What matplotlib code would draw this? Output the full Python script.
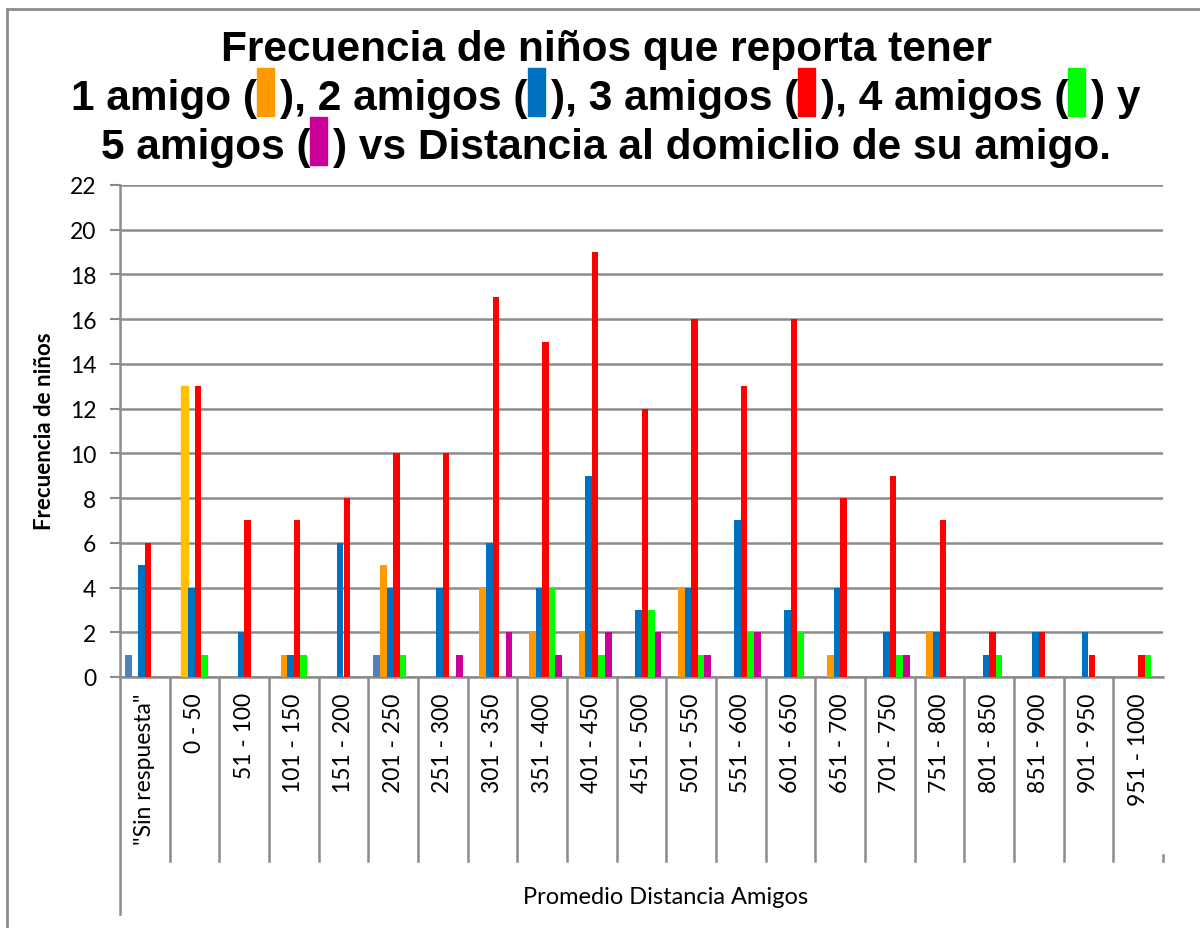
import matplotlib
matplotlib.use("Agg")
import matplotlib.pyplot as plt
from matplotlib.lines import Line2D
from matplotlib.patches import Rectangle
import numpy as np

# datos
categorias = ['"Sin respuesta"', "0 - 50", "51 - 100", "101 - 150", "151 - 200", "201 - 250",
              "251 - 300", "301 - 350", "351 - 400", "401 - 450", "451 - 500", "501 - 550",
              "551 - 600", "601 - 650", "651 - 700", "701 - 750", "751 - 800", "801 - 850",
              "851 - 900", "901 - 950", "951 - 1000"]
sin_resp = [1, 0, 0, 0, 0, 1, 0, 0, 0, 0, 0, 0, 0, 0, 0, 0, 0, 0, 0, 0, 0]
amigo1   = [0, 13, 0, 1, 0, 5, 0, 4, 2, 2, 0, 4, 0, 0, 1, 0, 2, 0, 0, 0, 0]
amigos2  = [5, 4, 2, 1, 6, 4, 4, 6, 4, 9, 3, 4, 7, 3, 4, 2, 2, 1, 2, 2, 0]
amigos3  = [6, 13, 7, 7, 8, 10, 10, 17, 15, 19, 12, 16, 13, 16, 8, 9, 7, 2, 2, 1, 1]
amigos4  = [0, 1, 0, 1, 0, 1, 0, 0, 4, 1, 3, 1, 2, 2, 0, 1, 0, 1, 0, 0, 1]
amigos5  = [0, 0, 0, 0, 0, 0, 1, 2, 1, 2, 2, 1, 2, 0, 0, 1, 0, 0, 0, 0, 0]

series = [sin_resp, amigo1, amigos2, amigos3, amigos4, amigos5]
colores = ["#4F81BD", "#FF9900", "#0070C0", "#FF0000", "#00FF00", "#CC0099"]

W, H = 1200, 929
fig = plt.figure(figsize=(12, 9.29), dpi=100)
ax = fig.add_axes([120 / W, 1 - 678 / H, (1163 - 120) / W, (678 - 186) / H])

x = np.arange(len(categorias))
w = 0.133
for i, (vals, col) in enumerate(zip(series, colores)):
    bars = ax.bar(x + (i - 2.5) * w, vals, w, color=col, zorder=3)
    if i == 1:
        bars[1].set_color("#FFC000")

ax.set_xlim(-0.5, len(categorias) - 0.5)
ax.set_ylim(0, 22)
ax.set_yticks(range(0, 23, 2))
ax.grid(axis="y", color="#8c8c8c", linewidth=1.8, zorder=0)
for s in ["top", "right"]:
    ax.spines[s].set_visible(False)
for s in ["left", "bottom"]:
    ax.spines[s].set_color("#8c8c8c")
    ax.spines[s].set_linewidth(1.8)

ax.tick_params(axis="y", length=7, width=1.5, color="#8c8c8c", pad=10, labelsize=16.5)
ax.tick_params(axis="x", length=0, pad=11, labelsize=16.5)
ax.set_xticks(x)
ax.set_xticklabels(categorias, rotation=90, fontfamily="Lato")
for t in ax.get_yticklabels():
    t.set_fontfamily("Lato")

# lineas separadoras de categorias
trans = ax.get_xaxis_transform()
y_sep = (678 - 862) / (678 - 186)
for b in range(1, len(categorias)):
    ax.plot([b - 0.5, b - 0.5], [0, y_sep], color="#8c8c8c", lw=1.8, transform=trans, clip_on=False)
ax.plot([-0.5, -0.5], [0, (678 - 915) / (678 - 186)], color="#8c8c8c", lw=1.8, transform=trans, clip_on=False)
ax.plot([len(categorias) - 0.5] * 2, [(678 - 856) / (678 - 186), y_sep], color="#8c8c8c", lw=1.8,
        transform=trans, clip_on=False)

fig.text(45 / W, 1 - 431 / H, "Frecuencia de niños", rotation=90, ha="center", va="center",
         fontsize=16, fontweight="bold", fontfamily="Lato")
fig.text(666 / W, 1 - 898 / H, "Promedio Distancia Amigos", ha="center", va="center",
         fontsize=17, fontfamily="Lato")

# borde exterior
fig.add_artist(Line2D([7 / W, 7 / W], [0, 1 - 10 / H], color="#8c8c8c", lw=2))
fig.add_artist(Line2D([7 / W, 1], [1 - 10 / H, 1 - 10 / H], color="#8c8c8c", lw=2))

# titulo con cuadritos de color
renderer = fig.canvas.get_renderer()
tfont = dict(fontsize=30.5, fontweight="bold", fontfamily="Liberation Sans")
box_w = 17


def title_line(parts, base_y, cx=606):
    widths = []
    for p in parts:
        if isinstance(p, str):
            t = fig.text(0, 0, p, **tfont)
            widths.append(t.get_window_extent(renderer).width)
            t.remove()
        else:
            widths.append(box_w + 6)
    xpos = cx - sum(widths) / 2
    for p, wd in zip(parts, widths):
        if isinstance(p, str):
            fig.text(xpos / W, 1 - base_y / H, p, va="baseline", ha="left", **tfont)
        else:
            fig.add_artist(Rectangle((xpos / W, 1 - (base_y + 7) / H), box_w / W, 48 / H,
                                     color=p[0], transform=fig.transFigure))
        xpos += wd


title_line(["Frecuencia de niños que reporta tener"], 61)
title_line(["1 amigo (", (colores[1],), "), 2 amigos (", (colores[2],), "), 3 amigos (",
            (colores[3],), "), 4 amigos (", (colores[4],), ") y"], 110)
title_line(["5 amigos (", (colores[5],), ") vs Distancia al domiclio de su amigo."], 159)

fig.savefig("out.png", dpi=100)
